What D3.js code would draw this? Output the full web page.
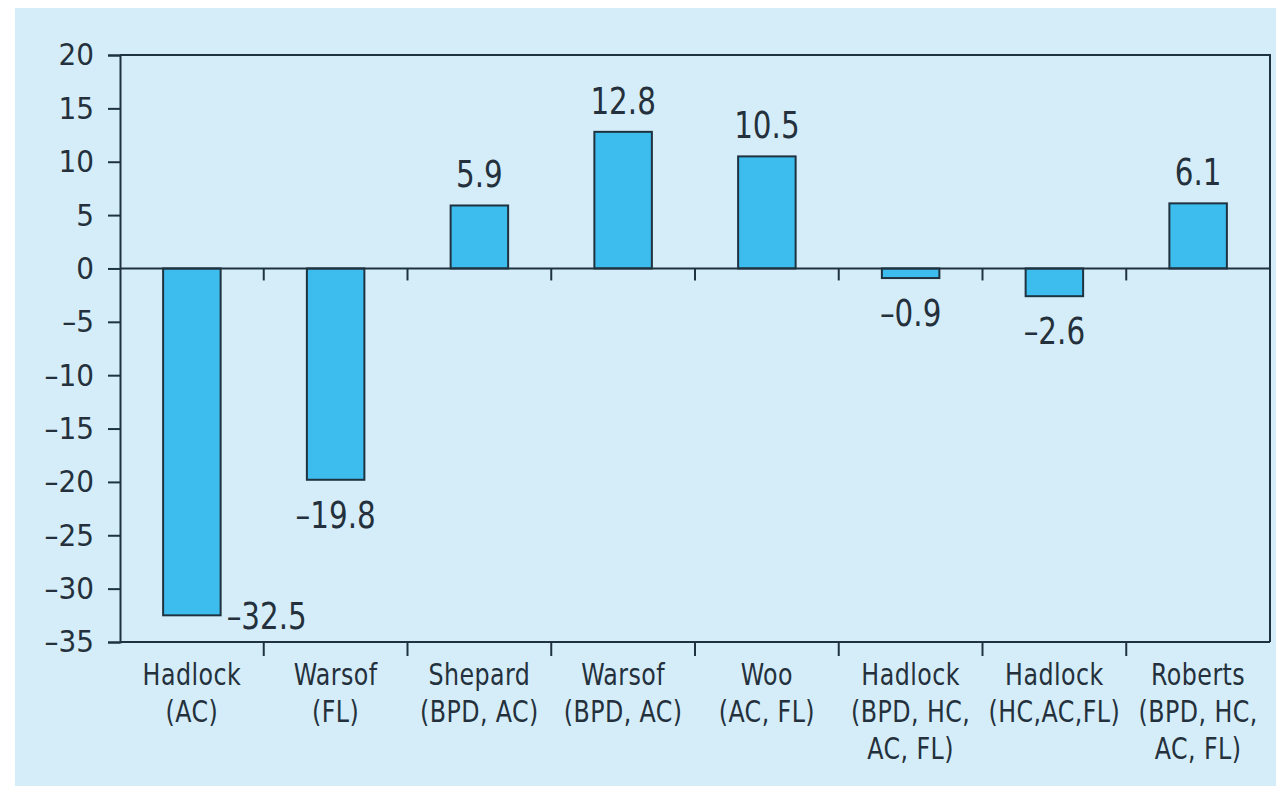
<!DOCTYPE html>
<html>
<head>
<meta charset="utf-8">
<script src="https://cdn.jsdelivr.net/npm/d3@7"></script>
<style>
  body { margin: 0; background: #fff; }
  text { font-family: 'DejaVu Sans Condensed', 'DejaVu Sans', sans-serif; font-stretch: condensed; fill: #24313c; }
</style>
</head>
<body>
<svg id="chart" width="1276" height="795"></svg>
<script>
// data
const methods = ['Hadlock AC', 'Warsof FL', 'Shepard', 'Warsof BPD', 'Woo', 'Hadlock BPD', 'Hadlock HC', 'Roberts']
const labelLines = [
  ['Hadlock', '(AC)'],
  ['Warsof', '(FL)'],
  ['Shepard', '(BPD, AC)'],
  ['Warsof', '(BPD, AC)'],
  ['Woo', '(AC, FL)'],
  ['Hadlock', '(BPD, HC,', 'AC, FL)'],
  ['Hadlock', '(HC,AC,FL)'],
  ['Roberts', '(BPD, HC,', 'AC, FL)']
]
const meanError = [-32.5, -19.8, 5.9, 12.8, 10.5, -0.9, -2.6, 6.1]
const yTicks = [20, 15, 10, 5, 0, -5, -10, -15, -20, -25, -30, -35]

const svg = d3.select('#chart')
const ink = '#1f323f'

// panel background
svg.append('rect')
  .attr('x', 15).attr('y', 8)
  .attr('width', 1261).attr('height', 778)
  .attr('fill', '#d5edf9')

const plotLeft = 120
const plotRight = 1270
const plotTop = 55
const plotBottom = 642

const x = d3.scaleBand()
  .domain(methods)
  .range([plotLeft, plotRight])
  .paddingInner(0.6)
  .paddingOuter(0.3)

const y = d3.scaleLinear()
  .domain([-35, 20])
  .range([plotBottom, plotTop])

// en dash for negatives, like the printed figure
const dash = s => s.replace('-', '\u2013').replace('\u2212', '\u2013')
const fmt = d => dash(d3.format('.1f')(d))

// frame: top and right
svg.append('path')
  .attr('d', `M${plotLeft},${plotTop}H${plotRight}V${plotBottom}`)
  .attr('fill', 'none')
  .attr('stroke', ink)
  .attr('stroke-width', 2)

// y axis
const yAxis = svg.append('g')
  .attr('transform', `translate(${plotLeft},0)`)
  .call(d3.axisLeft(y).tickValues(yTicks).tickSize(12).tickPadding(14)
    .tickFormat(d => dash(String(d))))
yAxis.select('.domain').attr('stroke', ink).attr('stroke-width', 2)
yAxis.selectAll('.tick line').attr('stroke', ink).attr('stroke-width', 2)
yAxis.selectAll('.tick text')
  .attr('fill', '#24313c')
  .style('font-size', '31px')
  .style('font-family', "'DejaVu Sans Condensed', 'DejaVu Sans', sans-serif")

// bars
svg.append('g').selectAll('rect')
  .data(meanError)
  .join('rect')
  .attr('x', (d, i) => x(methods[i]))
  .attr('width', x.bandwidth())
  .attr('y', d => y(Math.max(0, d)))
  .attr('height', d => Math.abs(y(d) - y(0)))
  .attr('fill', '#3dbdee')
  .attr('stroke', ink)
  .attr('stroke-width', 2)

// zero line and bottom axis line
svg.append('line')
  .attr('x1', plotLeft).attr('x2', plotRight)
  .attr('y1', y(0)).attr('y2', y(0))
  .attr('stroke', ink).attr('stroke-width', 2)
svg.append('line')
  .attr('x1', plotLeft).attr('x2', plotRight)
  .attr('y1', plotBottom).attr('y2', plotBottom)
  .attr('stroke', ink).attr('stroke-width', 2)

// separator ticks between categories (on zero line and bottom axis)
const seps = methods.slice(0, -1).map(m => x(m) + x.bandwidth() + (x.step() - x.bandwidth()) / 2)
const sepG = svg.append('g')
seps.forEach(s => {
  sepG.append('line')
    .attr('x1', s).attr('x2', s)
    .attr('y1', y(0)).attr('y2', y(0) + 12)
    .attr('stroke', ink).attr('stroke-width', 2)
  sepG.append('line')
    .attr('x1', s).attr('x2', s)
    .attr('y1', plotBottom).attr('y2', plotBottom + 14)
    .attr('stroke', ink).attr('stroke-width', 2)
})

// value labels (squeezed horizontally, the source font is narrow)
svg.append('g').selectAll('text')
  .data(meanError)
  .join('text')
  .attr('transform', (d, i) => {
    const lx = i === 0 ? x(methods[i]) + x.bandwidth() + 6 : x(methods[i]) + x.bandwidth() / 2
    const ly = i === 0 ? y(d) + 14 : (d >= 0 ? y(d) - 18 : y(d) + 48)
    return `translate(${lx},${ly}) scale(0.86,1)`
  })
  .attr('text-anchor', (d, i) => i === 0 ? 'start' : 'middle')
  .style('font-size', '38px')
  .text(d => fmt(d))

// category labels
const catG = svg.append('g')
labelLines.forEach((lines, i) => {
  const t = catG.append('text')
    .attr('transform', `translate(${x(methods[i]) + x.bandwidth() / 2},685) scale(0.88,1)`)
    .attr('text-anchor', 'middle')
    .style('font-size', '30px')
    .style('letter-spacing', '0.5px')
  lines.forEach((ln, j) => {
    t.append('tspan')
      .attr('x', 0)
      .attr('dy', j === 0 ? 0 : 37)
      .text(ln)
  })
})
</script>
</body>
</html>
